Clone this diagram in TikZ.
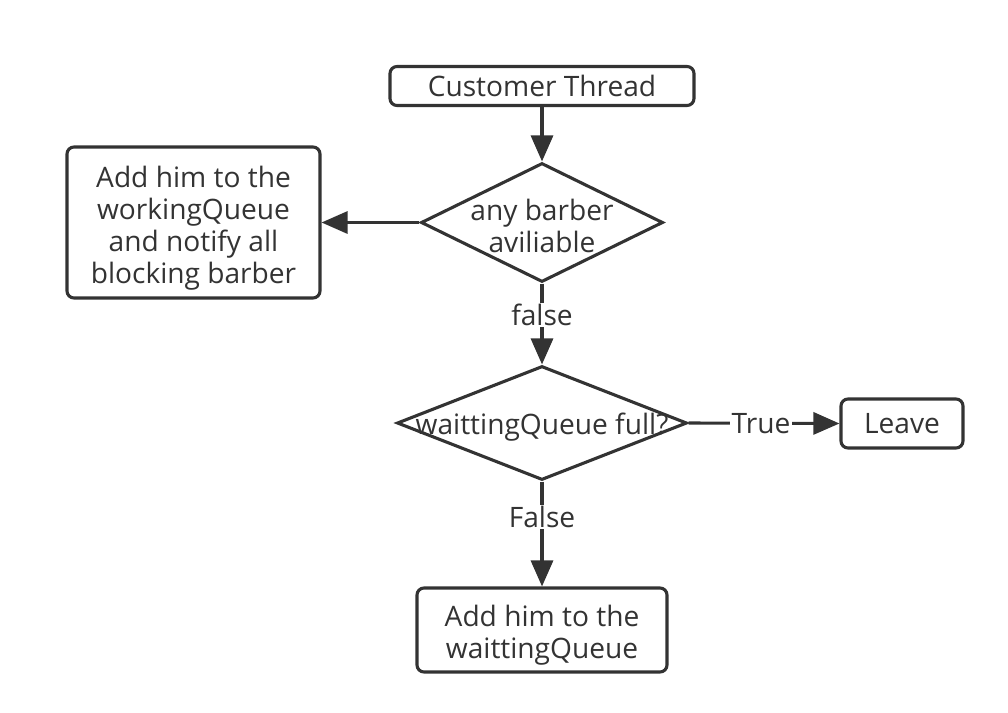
\documentclass[tikz,border=0pt]{standalone}
\usepackage{fontspec}
\setmainfont{Open Sans}
\usetikzlibrary{arrows.meta, shapes.geometric}
\definecolor{linegray}{HTML}{333333}
\newcommand{\tallline}{\rule{0pt}{23pt}}

\begin{document}
\begin{tikzpicture}[x=0.025cm, y=-0.025cm,
    every node/.style={font=\fontsize{20}{22.8}\selectfont, text=linegray},
    box/.style={draw=linegray, line width=2.2pt, rounded corners=5pt, align=center, inner sep=0pt},
    decision/.style={draw=linegray, line width=2.2pt, diamond, inner sep=0pt},
    flow/.style={draw=linegray, line width=2.2pt, -{Triangle[length=0.65cm, width=0.55cm]}},
    edgelabel/.style={fill=white, inner sep=1pt}]
  \useasboundingbox (0,0) rectangle (1008,712);
  % boxes
  \node[box, minimum width=304*0.025cm, minimum height=39*0.025cm] (start) at (542,86) {Customer Thread};
  \node[box, minimum width=253*0.025cm, minimum height=151*0.025cm] (notify) at (193.5,222.5)
    {\tallline Add him to the\\workingQueue\\and notify all\\blocking barber};
  \node[box, minimum width=122*0.025cm, minimum height=49*0.025cm] (leave) at (902,423.5) {Leave};
  \node[box, minimum width=250*0.025cm, minimum height=84*0.025cm] (wait) at (542,630)
    {\tallline Add him to the\\waittingQueue};
  % decisions
  \node[decision, minimum width=242*0.025cm, minimum height=119*0.025cm] (anyfree) at (542,222.5) {};
  \node[align=center] (anyfreetext) at (542,226) {any barber\\aviliable};
  \node[decision, minimum width=290*0.025cm, minimum height=114*0.025cm] (full) at (542,423) {};
  \node (fulltext) at (542,427) {waittingQueue full?};
  % connectors
  \draw[flow] (start) -- (anyfree);
  \draw[flow] (anyfree.west) -- (notify.east);
  \draw[flow] (anyfree.south) -- node[edgelabel, pos=0.39] (lfalse) {false} (full.north);
  \draw[flow] (full.east) -- node[edgelabel, pos=0.48] (ltrue) {True} (leave.west);
  \draw[flow] (full.south) -- node[edgelabel, pos=0.34] (lfalse2) {False} (wait.north);
\end{tikzpicture}
\end{document}
